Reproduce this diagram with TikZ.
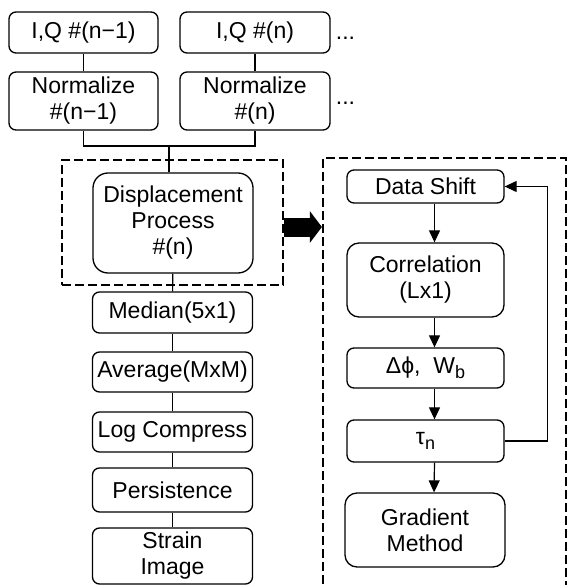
\documentclass[tikz,border=0pt]{standalone}
\usepackage{fontspec}
\setmainfont{Liberation Sans}
\usetikzlibrary{arrows.meta, positioning}

\newcommand{\lowidx}[1]{\raisebox{-0.35ex}{\fontsize{18}{18}\selectfont #1}}

\begin{document}
\begin{tikzpicture}[x=1pt,y=-1pt,
 blk/.style={draw, rounded corners=7pt, line width=1.3pt, align=center,
   inner sep=1pt, font=\fontsize{23}{26}\selectfont},
 grp/.style={draw, line width=2.2pt, dash pattern=on 9pt off 4pt},
 more/.style={inner sep=0pt, font=\fontsize{23}{26}\selectfont},
 arr/.style={line width=1.2pt, -{Triangle[length=12pt,width=11pt]}}]
  \useasboundingbox (0,0) rectangle (567,585);

  % inputs
  \node[blk, minimum width=149pt, minimum height=41pt] (iq1) at (83.5,32.5) {I,Q \#(n−1)};
  \node[blk, minimum width=150pt, minimum height=41pt] (iq2) at (255,32.5) {I,Q \#(n)};
  \node[blk, minimum width=149pt, minimum height=58pt] (nm1) at (83.5,101) {Normalize\\\#(n−1)};
  \node[blk, minimum width=150pt, minimum height=58pt] (nm2) at (255,101) {Normalize\\\#(n)};
  \node[more, right=5pt of iq2, yshift=-6pt] (m1) {...};
  \node[more, right=5pt of nm2, yshift=-2pt] (m2) {...};

  % displacement group
  \node[grp, minimum width=221pt, minimum height=125pt] (dl) at (172.5,222.5) {};
  \node[blk, rounded corners=15pt, minimum width=160pt, minimum height=100pt] (dp) at (173,223)
    {Displacement\\Process\\\#(n)};

  % post processing
  \node[blk, minimum width=160pt, minimum height=41pt] (med) at (172.5,312.5) {Median(5x1)};
  \node[blk, minimum width=160pt, minimum height=40pt] (avg) at (172.5,372) {Average(MxM)};
  \node[blk, minimum width=160pt, minimum height=40pt] (lgc) at (172.5,432) {Log Compress};
  \node[blk, minimum width=160pt, minimum height=44pt] (per) at (172.5,490) {Persistence};
  \node[blk, minimum width=160pt, minimum height=56pt] (stn) at (172.5,556) {Strain\\Image};

  % displacement detail
  \node[grp, minimum width=243pt, minimum height=462pt] (dr) at (444.5,389) {};
  \node[blk, minimum width=157pt, minimum height=33pt] (ds) at (425.5,186.5) {Data Shift};
  \node[blk, rounded corners=12pt, minimum width=157pt, minimum height=74pt] (cor) at (425.5,280)
    {Correlation\\(Lx1)};
  \node[blk, minimum width=157pt, minimum height=40pt] (ph) at (425.5,368) {Δϕ,~~W\lowidx{b}};
  \node[blk, minimum width=157pt, minimum height=42pt] (tau) at (425.5,441) {τ\lowidx{n}};
  \node[blk, rounded corners=12pt, minimum width=160pt, minimum height=74pt] (grd) at (425,530)
    {Gradient\\Method};

  \coordinate (j) at (169,146);
  \draw[line width=1.2pt] (iq1) -- (nm1);
  \draw[line width=1.2pt] (iq2) -- (nm2);
  \draw[line width=1.2pt] (nm1.south) |- (j) -| (nm2.south);
  \draw[line width=1.2pt] (j) -- (j |- dp.north);
  \foreach \s/\t in {dp/med, med/avg, avg/lgc, lgc/per, per/stn} {
   \draw[line width=1.2pt] (\s) -- (\t);}

  \foreach \s/\t in {ds/cor, cor/ph, ph/tau, tau/grd} {
   \draw[arr] ([xshift=9pt]\s.south) -- ([xshift=9pt]\t.north);}
  \draw[arr] (tau.east) -- ++(43,0) |- (ds.east);

  \coordinate (a) at ([yshift=-4.5pt]dl.east);
  \draw[line width=19pt, -{Triangle[length=12pt,width=31pt]}] (a) -- (a -| dr.west);
\end{tikzpicture}
\end{document}
